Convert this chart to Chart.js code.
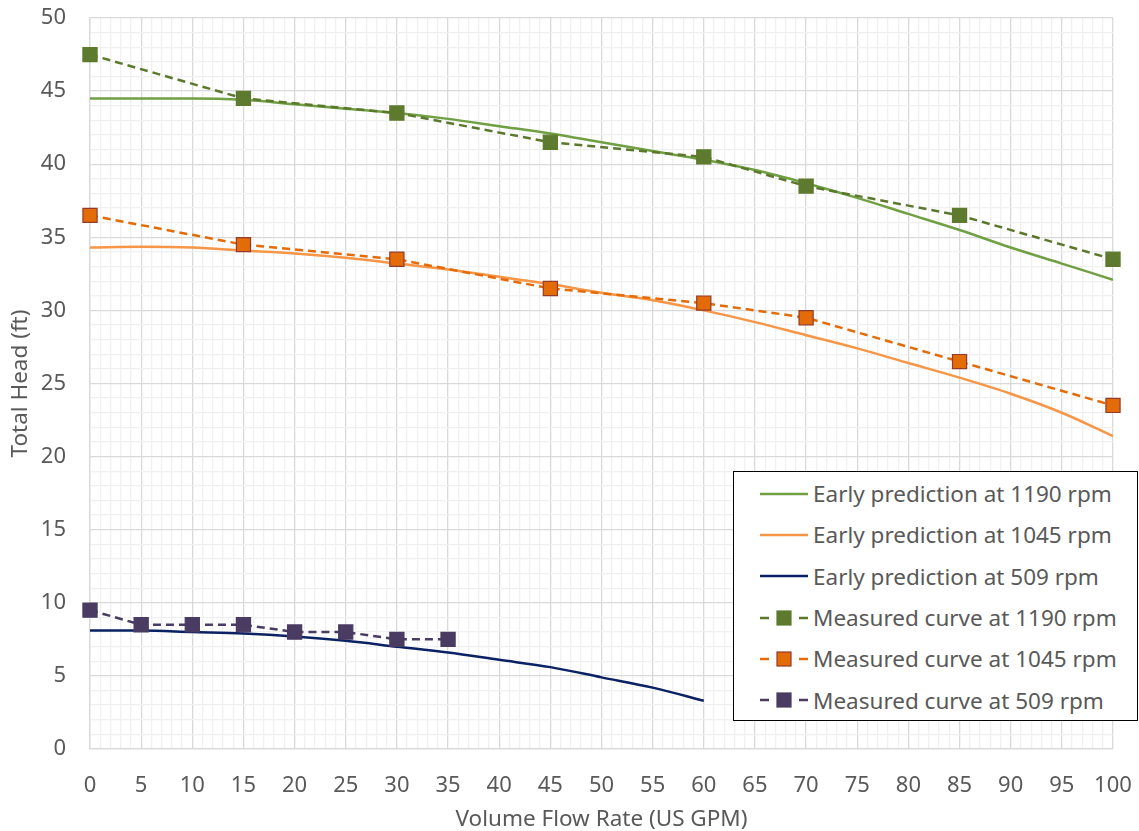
<!DOCTYPE html>
<html>
<head>
<meta charset="utf-8">
<script src="https://cdn.jsdelivr.net/npm/chart.js@4.4.1/dist/chart.umd.min.js"></script>
<style>
  html, body { margin: 0; padding: 0; background: #fff; }
  #wrap { position: relative; width: 1139px; height: 831px; }
  #legend {
    position: absolute; left: 733px; top: 471px; width: 403px; height: 247px;
    border: 1.5px solid #000; background: #fff; box-sizing: content-box;
    font-family: "Noto Sans", sans-serif; font-size: 22.5px; color: #595959;
    padding-top: 1px;
  }
  .row { height: 41.3px; display: flex; align-items: center; white-space: nowrap; }
  .row svg { margin-left: 26px; margin-right: 5px; }
</style>
</head>
<body>
<div id="wrap">
  <canvas id="pump" width="1139" height="831"></canvas>
  <div id="legend"></div>
</div>
<script>
// flow rates (US GPM)
const predFlow = [0, 5, 10, 15, 20, 25, 30, 35, 40, 45, 50, 55, 60, 65, 70, 75, 80, 85, 90, 95, 100];
const predFlow509 = [0, 5, 10, 15, 20, 25, 30, 35, 40, 45, 50, 55, 60];
const measFlow = [0, 15, 30, 45, 60, 70, 85, 100];
const measFlow509 = [0, 5, 10, 15, 20, 25, 30, 35];

// total head (ft)
const pred1190 = [44.5, 44.5, 44.5, 44.4, 44.1, 43.8, 43.5, 43.1, 42.6, 42.1, 41.5, 40.9, 40.3, 39.6, 38.7, 37.7, 36.6, 35.5, 34.3, 33.2, 32.1];
const pred1045 = [34.3, 34.35, 34.3, 34.1, 33.9, 33.6, 33.2, 32.8, 32.3, 31.8, 31.2, 30.7, 30.0, 29.2, 28.3, 27.4, 26.4, 25.4, 24.3, 23.0, 21.4];
const pred509 = [8.1, 8.1, 8.0, 7.9, 7.7, 7.4, 7.0, 6.6, 6.1, 5.6, 4.9, 4.2, 3.3];
const meas1190 = [47.5, 44.5, 43.5, 41.5, 40.5, 38.5, 36.5, 33.5];
const meas1045 = [36.5, 34.5, 33.5, 31.5, 30.5, 29.5, 26.5, 23.5];
const meas509 = [9.5, 8.5, 8.5, 8.5, 8, 8, 7.5, 7.5];

const xTicks = [0, 100, 5];
const yTicks = [0, 50, 5];

const toPts = (xs, ys) => xs.map((x, i) => ({ x: x, y: ys[i] }));

function predLine(label, xs, ys, color) {
  return {
    label: label, data: toPts(xs, ys), borderColor: color, backgroundColor: color,
    borderWidth: 2.5, pointRadius: 0, tension: 0.4, cubicInterpolationMode: "monotone", order: 2
  };
}
function measLine(label, xs, ys, color, fill, edge) {
  return {
    label: label, data: toPts(xs, ys), borderColor: color, backgroundColor: fill,
    borderWidth: 2.5, borderDash: [8, 5], tension: 0, order: 1, clip: false,
    pointStyle: "rect", pointRadius: 10, pointBorderColor: edge, pointBorderWidth: 1.2,
    pointBackgroundColor: fill
  };
}

const datasets = [
  predLine("Early prediction at 1190 rpm", predFlow, pred1190, "#70A043"),
  predLine("Early prediction at 1045 rpm", predFlow, pred1045, "#F79646"),
  predLine("Early prediction at 509 rpm", predFlow509, pred509, "#0A2263"),
  measLine("Measured curve at 1190 rpm", measFlow, meas1190, "#5B782C", "#5E7A2E", "#5E7A2E"),
  measLine("Measured curve at 1045 rpm", measFlow, meas1045, "#E36C09", "#E36C09", "#943A2A"),
  measLine("Measured curve at 509 rpm", measFlow509, meas509, "#4A3B63", "#4A3B63", "#4A3B63")
];

const grid = {
  color: c => (c.tick && c.tick.value % 5 === 0) ? "#D9D9D9" : "#F0F0F0",
  lineWidth: 1.3, drawTicks: false
};
const tickFont = { family: "Noto Sans", size: 22 };
const titleFont = { family: "Noto Sans", size: 22.5 };

new Chart(document.getElementById("pump").getContext("2d"), {
  type: "line",
  data: { datasets: datasets },
  options: {
    responsive: false, animation: false,
    layout: { padding: { top: 18, right: 26, left: 0, bottom: 0 } },
    plugins: { legend: { display: false }, tooltip: { enabled: false } },
    scales: {
      x: {
        type: "linear", min: xTicks[0], max: xTicks[1],
        grid: grid, border: { color: "#D9D9D9", width: 1.3 },
        ticks: {
          stepSize: 1, autoSkip: false, maxRotation: 0, color: "#595959", font: tickFont, padding: 24,
          callback: v => v % xTicks[2] === 0 ? v : ""
        },
        title: { display: true, text: "Volume Flow Rate (US GPM)", color: "#595959", font: titleFont, padding: { top: 4, bottom: -2 } },
        afterFit: s => { s.height = 82; s.paddingLeft = 0; s.paddingRight = 0; }
      },
      y: {
        min: yTicks[0], max: yTicks[1],
        grid: grid, border: { color: "#D9D9D9", width: 1.3 },
        ticks: {
          stepSize: 1, autoSkip: false, color: "#595959", font: tickFont, padding: 24,
          callback: v => v % yTicks[2] === 0 ? v : ""
        },
        title: { display: true, text: "Total Head (ft)", color: "#595959", font: titleFont, padding: { top: 7, bottom: 0 } },
        afterFit: s => { s.width = 90; s.paddingTop = 0; s.paddingBottom = 0; }
      }
    }
  }
});

// legend box drawn as html, symbols taken from the datasets
const legend = document.getElementById("legend");
datasets.forEach(ds => {
  const row = document.createElement("div");
  row.className = "row";
  let icon;
  if (ds.borderDash) {
    icon = `<svg width="48" height="20"><line x1="0" y1="10" x2="9" y2="10" stroke="${ds.borderColor}" stroke-width="2.5"/>` +
      `<rect x="17" y="3" width="14" height="14" fill="${ds.pointBackgroundColor}" stroke="${ds.pointBorderColor}" stroke-width="1.2"/>` +
      `<line x1="39" y1="10" x2="48" y2="10" stroke="${ds.borderColor}" stroke-width="2.5"/></svg>`;
  } else {
    icon = `<svg width="48" height="20"><line x1="0" y1="10" x2="48" y2="10" stroke="${ds.borderColor}" stroke-width="2.5"/></svg>`;
  }
  row.innerHTML = icon + `<span>${ds.label}</span>`;
  legend.appendChild(row);
});
</script>
</body>
</html>
